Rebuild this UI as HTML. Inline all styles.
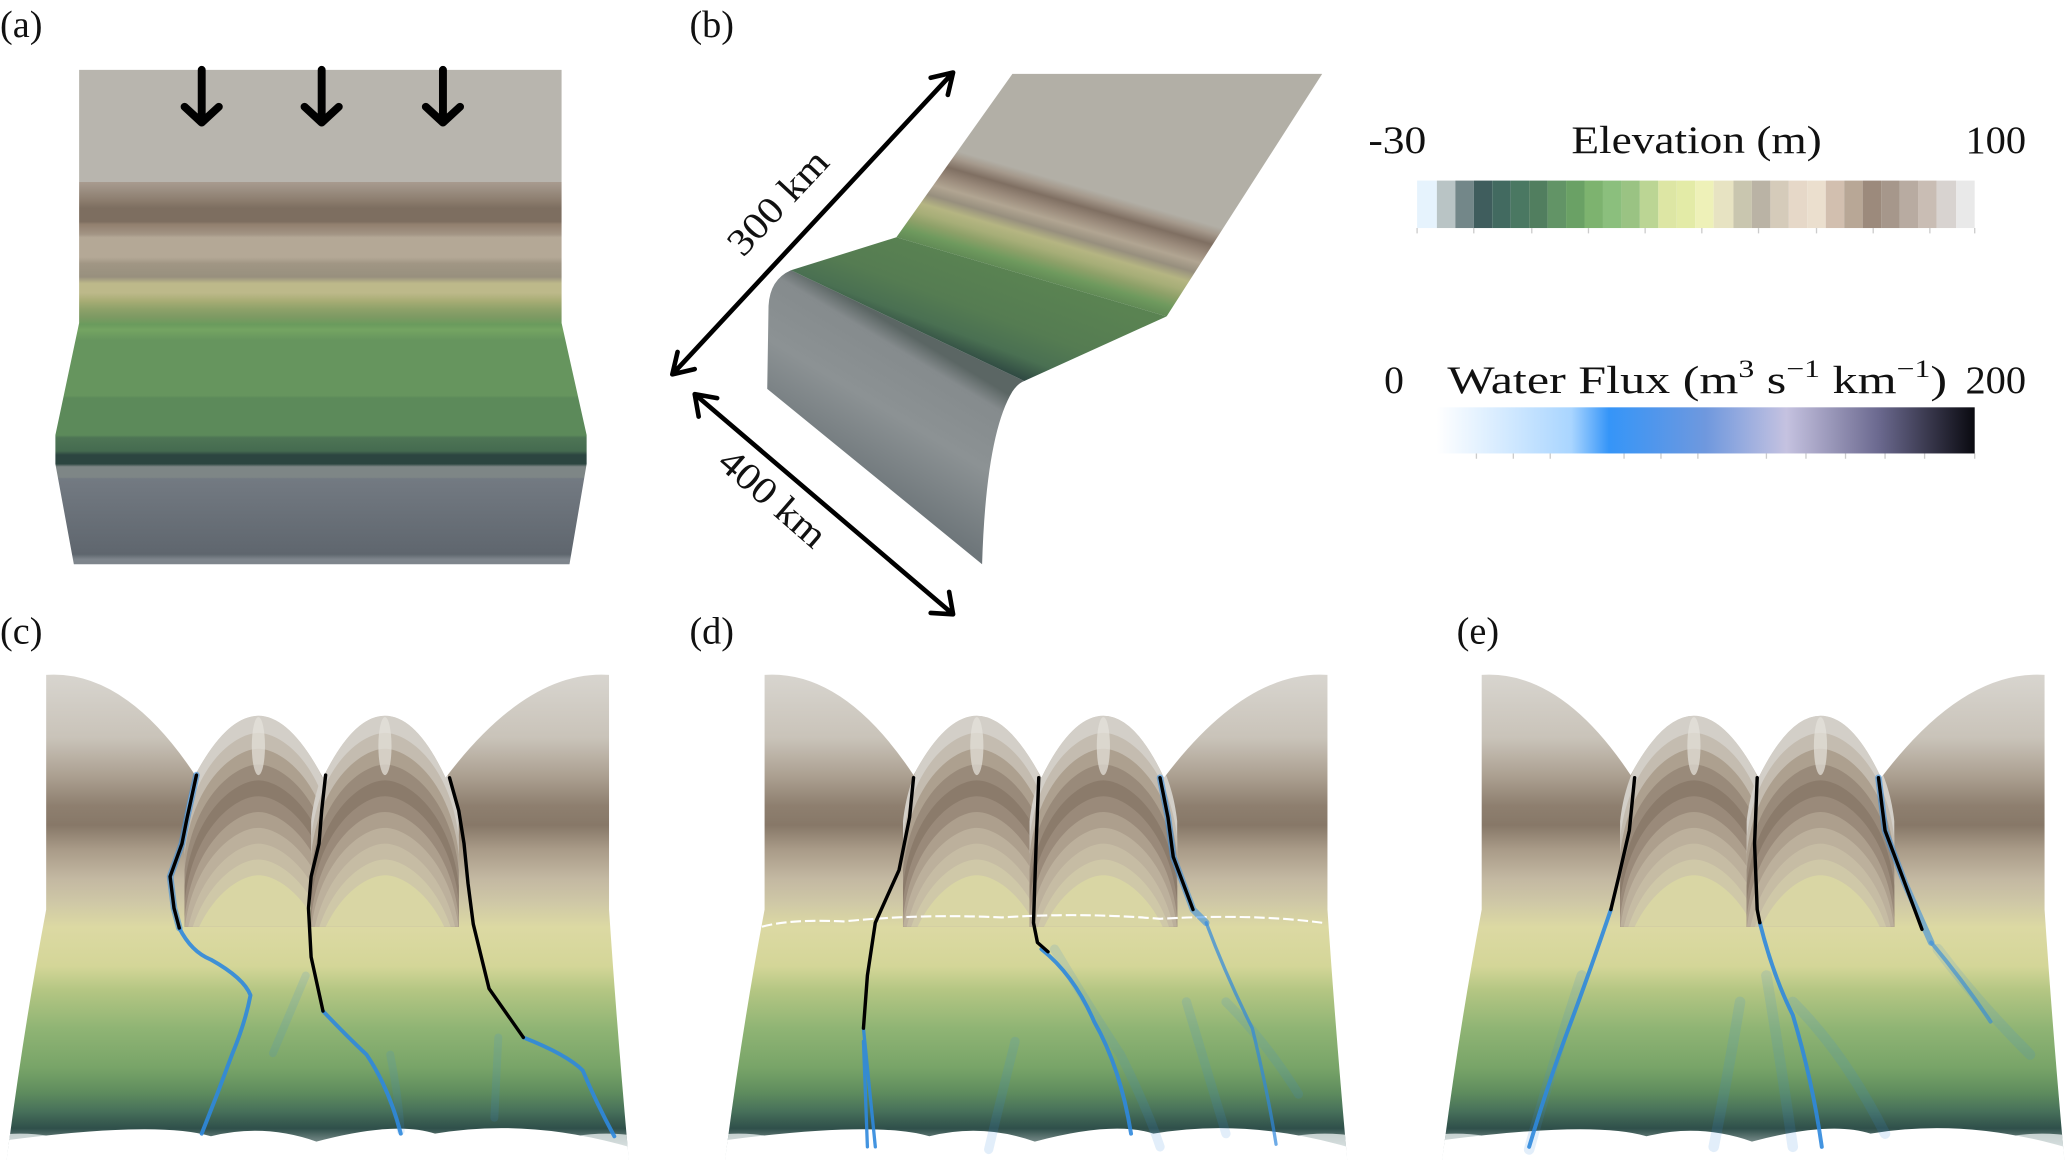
<!DOCTYPE html>
<html><head><meta charset="utf-8"><style>
html,body{margin:0;padding:0;background:#fff;}
svg{display:block;}
text{font-family:"Liberation Serif",serif;fill:#111;}
</style></head><body>
<svg width="2067" height="1162" viewBox="0 0 1568 881.5" xmlns="http://www.w3.org/2000/svg">
<defs>
<linearGradient id="ga" gradientUnits="userSpaceOnUse" x1="0" y1="53" x2="0" y2="428">
<stop offset="0" stop-color="#b8b5ae"/><stop offset="0.227" stop-color="#b8b5ae"/>
<stop offset="0.227" stop-color="#a89b8f"/><stop offset="0.245" stop-color="#9a8d80"/>
<stop offset="0.264" stop-color="#8c7d6e"/><stop offset="0.280" stop-color="#7d6e60"/>
<stop offset="0.307" stop-color="#7d6e60"/><stop offset="0.312" stop-color="#917f6e"/>
<stop offset="0.333" stop-color="#a39585"/><stop offset="0.339" stop-color="#b4a896"/>
<stop offset="0.379" stop-color="#b4a896"/><stop offset="0.392" stop-color="#a09684"/>
<stop offset="0.419" stop-color="#98907e"/><stop offset="0.432" stop-color="#bdb98a"/>
<stop offset="0.451" stop-color="#bdb98a"/><stop offset="0.467" stop-color="#a8ad75"/>
<stop offset="0.483" stop-color="#8fa26a"/><stop offset="0.499" stop-color="#7e9a63"/>
<stop offset="0.515" stop-color="#6a9b5d"/><stop offset="0.526" stop-color="#74a462"/>
<stop offset="0.547" stop-color="#66955e"/><stop offset="0.659" stop-color="#66955e"/>
<stop offset="0.664" stop-color="#5c8a5a"/><stop offset="0.739" stop-color="#5c8a5a"/>
<stop offset="0.744" stop-color="#4e7555"/><stop offset="0.771" stop-color="#456b50"/>
<stop offset="0.779" stop-color="#2c4540"/><stop offset="0.797" stop-color="#2c4540"/>
<stop offset="0.803" stop-color="#7e8686"/><stop offset="0.824" stop-color="#7e8686"/>
<stop offset="0.827" stop-color="#737a82"/><stop offset="0.98" stop-color="#5f666e"/>
<stop offset="0.99" stop-color="#7e858c"/><stop offset="1" stop-color="#7e858c"/>
</linearGradient>
<linearGradient id="gb1" gradientUnits="userSpaceOnUse" x1="748" y1="100" x2="720" y2="196">
<stop offset="0" stop-color="#b2afa6"/><stop offset="0.2" stop-color="#b2afa6"/>
<stop offset="0.26" stop-color="#a5998c"/><stop offset="0.34" stop-color="#7f6f62"/>
<stop offset="0.42" stop-color="#9a8a7b"/><stop offset="0.5" stop-color="#b1a592"/>
<stop offset="0.58" stop-color="#978f7e"/><stop offset="0.66" stop-color="#b5b582"/>
<stop offset="0.73" stop-color="#a7ae78"/><stop offset="0.8" stop-color="#8ea169"/>
<stop offset="0.88" stop-color="#6f9a5e"/><stop offset="1" stop-color="#5a8352"/>
</linearGradient>
<linearGradient id="gb2" gradientUnits="userSpaceOnUse" x1="730" y1="190" x2="700" y2="270">
<stop offset="0" stop-color="#5a8352"/><stop offset="0.45" stop-color="#557c52"/>
<stop offset="0.7" stop-color="#4a7052"/><stop offset="0.9" stop-color="#2d4641"/><stop offset="1" stop-color="#3d4b4a"/>
</linearGradient>
<linearGradient id="gb3" gradientUnits="userSpaceOnUse" x1="700" y1="260" x2="640" y2="360">
<stop offset="0" stop-color="#5b6664"/><stop offset="0.12" stop-color="#858b8d"/>
<stop offset="0.5" stop-color="#8c9294"/><stop offset="1" stop-color="#6e767a"/>
</linearGradient>
<linearGradient id="gt" gradientUnits="userSpaceOnUse" x1="0" y1="512" x2="0" y2="880">
<stop offset="0" stop-color="#d8d5cf"/><stop offset="0.13" stop-color="#c9c3b9"/>
<stop offset="0.21" stop-color="#ab9f90"/><stop offset="0.27" stop-color="#8e7f6f"/>
<stop offset="0.31" stop-color="#877868"/><stop offset="0.36" stop-color="#a99b88"/>
<stop offset="0.42" stop-color="#c3b8a2"/><stop offset="0.47" stop-color="#cfc8a6"/>
<stop offset="0.52" stop-color="#dcd9a3"/><stop offset="0.6" stop-color="#d4d698"/>
<stop offset="0.65" stop-color="#b4c683"/><stop offset="0.73" stop-color="#8fb474"/>
<stop offset="0.81" stop-color="#78a468"/><stop offset="0.86" stop-color="#5f8d5e"/>
<stop offset="0.9" stop-color="#47705a"/><stop offset="0.935" stop-color="#2f4f4a"/>
<stop offset="0.96" stop-color="#6f8482"/><stop offset="0.985" stop-color="#c5d0d0"/>
<stop offset="1" stop-color="#eef2f2"/>
</linearGradient>
<linearGradient id="gw" x1="0" y1="0" x2="1" y2="0">
<stop offset="0" stop-color="#ffffff"/><stop offset="0.25" stop-color="#a9d5ff"/>
<stop offset="0.32" stop-color="#3595f8"/><stop offset="0.5" stop-color="#6f98de"/>
<stop offset="0.65" stop-color="#c5c2e0"/><stop offset="0.82" stop-color="#6c6a90"/>
<stop offset="1" stop-color="#0a0a10"/>
</linearGradient>
<clipPath id="cp">
<path d="M35,512 Q95,508 148,588 Q172,543 196,543 Q220,543 245,590 Q268,543 292,543 Q316,543 338,590 Q400,508 462,512 L462,690 Q468,780 477,880 L5,880 Q18,780 35,690 Z"/>
</clipPath>
<clipPath id="ca"><rect x="-80" y="500" width="160" height="203"/></clipPath>
<g id="arch" stroke="none" clip-path="url(#ca)">
<path d="M-56,705 L-56,623 C-50,568 -18,543 0,543 C18,543 50,568 56,623 L56,705Z" fill="#d3cfc8"/>
<path d="M-56,705 L-56,636 C-50,581 -18,556 0,556 C18,556 50,581 56,636 L56,705Z" fill="#c4bcb0"/>
<path d="M-56,705 L-56,648 C-50,593 -18,568 0,568 C18,568 50,593 56,648 L56,705Z" fill="#ada08f"/>
<path d="M-56,705 L-56,660 C-50,605 -18,580 0,580 C18,580 50,605 56,660 L56,705Z" fill="#998a7a"/>
<path d="M-56,705 L-56,672 C-50,617 -18,592 0,592 C18,592 50,617 56,672 L56,705Z" fill="#8b7b6b"/>
<path d="M-56,705 L-56,684 C-50,629 -18,604 0,604 C18,604 50,629 56,684 L56,705Z" fill="#9a8a7a"/>
<path d="M-56,705 L-56,696 C-50,641 -18,616 0,616 C18,616 50,641 56,696 L56,705Z" fill="#ad9f8d"/>
<path d="M-56,705 C-50,653 -18,628 0,628 C18,628 50,653 56,705Z" fill="#bcb09c"/>
<path d="M-56,720 C-50,665 -18,640 0,640 C18,640 50,665 56,720Z" fill="#c6bca4"/>
<path d="M-56,732 C-50,677 -18,652 0,652 C18,652 50,677 56,732Z" fill="#cfc8a8"/>
<path d="M-56,744 C-50,689 -18,664 0,664 C18,664 50,689 56,744Z" fill="#d9d6a4"/>
<ellipse cx="0" cy="566" rx="5" ry="22" fill="#e6e3dc" opacity="0.7"/>
</g>
<g id="terrain">
<g clip-path="url(#cp)">
<rect x="0" y="500" width="480" height="385" fill="url(#gt)"/>
<use href="#arch" transform="translate(196,0)"/>
<use href="#arch" transform="translate(292,0)"/>
<ellipse cx="15" cy="885" rx="60" ry="25" fill="#e6ecec" opacity="0.8"/>
<ellipse cx="460" cy="885" rx="60" ry="25" fill="#e6ecec" opacity="0.8"/>
<path d="M5,865 Q120,850 160,862 Q200,852 240,866 Q300,850 330,860 Q400,848 477,870 L477,885 L5,885Z" fill="#ffffff"/>
</g>
</g>
</defs>

<!-- labels -->
<text x="0" y="28" font-size="29">(a)</text>
<text x="523" y="28" font-size="29">(b)</text>
<text x="0" y="488" font-size="29">(c)</text>
<text x="523" y="488" font-size="29">(d)</text>
<text x="1105" y="488" font-size="29">(e)</text>

<!-- panel a -->
<path d="M60,53 L426,53 L426,245 L445,330 L445,352 L432,428 L56,428 L42,352 L42,330 L60,245 Z" fill="url(#ga)"/>
<g stroke="#000" stroke-width="6" fill="none" stroke-linecap="round" stroke-linejoin="round">
<path d="M153,53 L153,93 M140,81 L153,93 L166,81"/>
<path d="M244,53 L244,93 M231,81 L244,93 L257,81"/>
<path d="M336,53 L336,93 M323,81 L336,93 L349,81"/>
</g>

<!-- panel b -->
<path d="M600,205 Q584,212 583,232 L582,295 L745,428 Q748,330 768,297 Q772,291 777,289 Z" fill="url(#gb3)"/>
<path d="M768,56 L1003,56 L885,240 L680,180 Z" fill="url(#gb1)"/>
<path d="M680,180 L885,240 L777,289 L600,205 Z" fill="url(#gb2)"/>
<g stroke="#000" stroke-width="3.5" fill="none" stroke-linecap="round" stroke-linejoin="round">
<path d="M510,284 L723,55 M706,59 L723,55 L719,72 M514,267 L510,284 L527,280"/>
<path d="M527,299 L723,466 M530,316 L527,299 L544,302 M706,465 L723,466 L720,449"/>
</g>
<text x="0" y="0" font-size="29" transform="translate(597,160) rotate(-47)" text-anchor="middle" textLength="98" lengthAdjust="spacingAndGlyphs">300 km</text>
<text x="0" y="0" font-size="29" transform="translate(580,385) rotate(41)" text-anchor="middle" textLength="98" lengthAdjust="spacingAndGlyphs">400 km</text>

<!-- colorbars -->
<text x="1038" y="116" font-size="30" textLength="44" lengthAdjust="spacingAndGlyphs">-30</text>
<text x="1192" y="116" font-size="30" textLength="190" lengthAdjust="spacingAndGlyphs">Elevation (m)</text>
<text x="1491" y="116" font-size="30" textLength="46" lengthAdjust="spacingAndGlyphs">100</text>
<g>
<rect x="1075" y="137" width="15" height="36" fill="#e6f3fd"/>
<rect x="1090" y="137" width="14" height="36" fill="#b9c4c5"/>
<rect x="1104" y="137" width="14" height="36" fill="#738789"/>
<rect x="1118" y="137" width="14" height="36" fill="#3f5d5d"/>
<rect x="1132" y="137" width="14" height="36" fill="#426a60"/>
<rect x="1146" y="137" width="14" height="36" fill="#4a7862"/>
<rect x="1160" y="137" width="14" height="36" fill="#517e5f"/>
<rect x="1174" y="137" width="14" height="36" fill="#629466"/>
<rect x="1188" y="137" width="14" height="36" fill="#6aa165"/>
<rect x="1202" y="137" width="14" height="36" fill="#7db36f"/>
<rect x="1216" y="137" width="14" height="36" fill="#8bbf7d"/>
<rect x="1230" y="137" width="14" height="36" fill="#9ac383"/>
<rect x="1244" y="137" width="14" height="36" fill="#bbd594"/>
<rect x="1258" y="137" width="14" height="36" fill="#dde6a4"/>
<rect x="1272" y="137" width="14" height="36" fill="#e3eba7"/>
<rect x="1286" y="137" width="14" height="36" fill="#eef1b8"/>
<rect x="1300" y="137" width="15" height="36" fill="#e7e3c2"/>
<rect x="1315" y="137" width="14" height="36" fill="#c9c6af"/>
<rect x="1329" y="137" width="14" height="36" fill="#bab3a5"/>
<rect x="1343" y="137" width="14" height="36" fill="#d5cbba"/>
<rect x="1357" y="137" width="14" height="36" fill="#e6d8c8"/>
<rect x="1371" y="137" width="14" height="36" fill="#ebdfce"/>
<rect x="1385" y="137" width="14" height="36" fill="#d2bfaf"/>
<rect x="1399" y="137" width="14" height="36" fill="#b8a796"/>
<rect x="1413" y="137" width="14" height="36" fill="#9c8a7c"/>
<rect x="1427" y="137" width="14" height="36" fill="#a6978b"/>
<rect x="1441" y="137" width="14" height="36" fill="#b8aba1"/>
<rect x="1455" y="137" width="14" height="36" fill="#c9bdb4"/>
<rect x="1469" y="137" width="15" height="36" fill="#d8d3d0"/>
<rect x="1484" y="137" width="14" height="36" fill="#e9e9e9"/>
</g>
<path d="M1075,173 v4 M1118,173 v4 M1162,173 v4 M1205,173 v4 M1248,173 v4 M1291,173 v4 M1334,173 v4 M1378,173 v4 M1421,173 v4 M1464,173 v4 M1498,173 v4" stroke="#ccc" stroke-width="1"/>

<text x="1050" y="298" font-size="30">0</text>
<text x="1098" y="298" font-size="30" textLength="379" lengthAdjust="spacingAndGlyphs">Water Flux (m<tspan dy="-12" font-size="19">3</tspan><tspan dy="12"> s</tspan><tspan dy="-12" font-size="19">−1</tspan><tspan dy="12"> km</tspan><tspan dy="-12" font-size="19">−1</tspan><tspan dy="12">)</tspan></text>
<text x="1491" y="298" font-size="30" textLength="46" lengthAdjust="spacingAndGlyphs">200</text>
<rect x="1090" y="309" width="408" height="35" fill="url(#gw)"/>
<path d="M1120,344 v4 M1148,344 v4 M1176,344 v4 M1232,344 v4 M1260,344 v4 M1288,344 v4 M1340,344 v4 M1370,344 v4 M1400,344 v4 M1430,344 v4 M1460,344 v4 M1498,344 v4" stroke="#ccc" stroke-width="1"/>

<!-- panel c -->
<use href="#terrain"/>
<g fill="none" stroke-linecap="round" stroke-linejoin="round">
<path d="M232,740 L207,799 M296,800 Q302,830 304,858 M378,787 L375,848" stroke="#3a8fe0" stroke-width="6" opacity="0.15"/>
<path d="M136,704 Q145,722 160,728 Q185,742 190,755 Q186,776 176,800 Q165,830 153,860" stroke="#2f88dd" stroke-width="3" opacity="0.9"/>
<path d="M245,767 Q262,785 278,800 Q295,825 304,860" stroke="#2f88dd" stroke-width="3" opacity="0.9"/>
<path d="M397,787 Q430,800 442,812 Q452,836 466,862" stroke="#2f88dd" stroke-width="3" opacity="0.9"/>
<path d="M149,588 L142,620 L138,640 L129,665 L132,689 L136,704" stroke="#3a8fe0" stroke-width="5" opacity="0.6"/>
<path d="M149,588 L142,620 L138,640 L129,665 L132,689 L136,704" stroke="#000" stroke-width="2.6"/>
<path d="M247,588 L244,615 L242,640 L236,665 L234,689 L236,726 L245,767" stroke="#000" stroke-width="2.6"/>
<path d="M341,590 L348,615 L352,640 L355,670 L359,701 L371,750 L397,787" stroke="#000" stroke-width="2.6"/>
</g>

<!-- panel d -->
<use href="#terrain" transform="translate(545,0)"/>
<path d="M578,703 Q600,697 640,699 Q700,693 760,696 Q820,692 880,697 Q950,693 1003,700" stroke="#ffffff" stroke-width="1.6" fill="none" stroke-dasharray="8 3"/>
<g fill="none" stroke-linecap="round" stroke-linejoin="round">
<path d="M800,720 Q830,770 850,800 Q870,840 880,870 M900,760 L930,860 M930,760 Q960,790 985,830 M770,790 Q760,830 750,872" stroke="#3a8fe0" stroke-width="7" opacity="0.15"/>
<path d="M655,780 L660,830 L664,870 M655,790 L658,870" stroke="#2f88dd" stroke-width="2.5" opacity="0.9"/>
<path d="M790,720 Q815,740 830,775 Q850,810 858,860" stroke="#2f88dd" stroke-width="3" opacity="0.9"/>
<path d="M915,700 Q930,740 950,780 Q962,830 968,868" stroke="#2f88dd" stroke-width="2.5" opacity="0.7"/>
<path d="M693,590 L690,620 L682,660 L664,700 L658,740 L655,780" stroke="#000" stroke-width="2.6"/>
<path d="M788,590 L786,640 L784,700 L787,715 L795,722" stroke="#000" stroke-width="2.6"/>
<path d="M880,590 L886,620 L890,650 L905,690 L915,700" stroke="#3a8fe0" stroke-width="5" opacity="0.6"/>
<path d="M880,590 L886,620 L890,650 L905,690" stroke="#000" stroke-width="2.6"/>
</g>

<!-- panel e -->
<use href="#terrain" transform="translate(1089,0)"/>
<g fill="none" stroke-linecap="round" stroke-linejoin="round">
<path d="M1200,740 Q1180,800 1160,872 M1340,740 Q1350,800 1360,870 M1320,760 Q1310,820 1300,870 M1470,720 Q1500,760 1540,800 M1360,760 Q1400,800 1430,860" stroke="#3a8fe0" stroke-width="8" opacity="0.15"/>
<path d="M1222,690 Q1205,740 1190,780 Q1175,820 1160,870" stroke="#2f88dd" stroke-width="3" opacity="0.9"/>
<path d="M1335,700 Q1345,740 1360,770 Q1375,820 1382,870" stroke="#2f88dd" stroke-width="3" opacity="0.9"/>
<path d="M1465,715 Q1490,745 1510,775" stroke="#2f88dd" stroke-width="3" opacity="0.6"/>
<path d="M1240,590 L1236,630 L1228,665 L1222,690" stroke="#000" stroke-width="2.6"/>
<path d="M1333,590 L1331,640 L1333,690 L1335,700" stroke="#000" stroke-width="2.6"/>
<path d="M1425,590 L1430,630 L1445,670 L1465,715" stroke="#3a8fe0" stroke-width="5" opacity="0.6"/>
<path d="M1425,590 L1430,630 L1445,670 L1458,705" stroke="#000" stroke-width="2.6"/>
</g>
</svg>
</body></html>
